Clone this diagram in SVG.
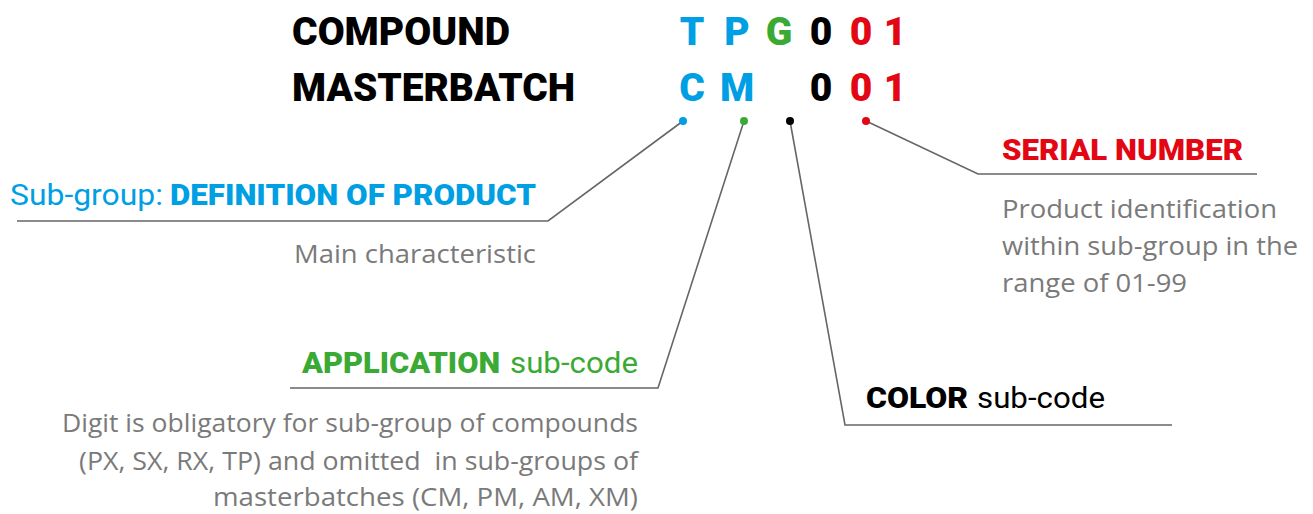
<svg xmlns="http://www.w3.org/2000/svg" width="1313" height="514" viewBox="0 0 1313 514">
<style>
.hd{font-family:Roboto,"Liberation Sans",sans-serif;font-weight:900}
.rg{font-family:Roboto,"Liberation Sans",sans-serif;font-weight:400}
.ds{font-family:"Open Sans","Noto Sans",sans-serif;font-size:26px;fill:#7a7a7a}
.big{font-size:39px}
.mid{font-size:30px}
.code{text-anchor:middle}
.blue{fill:#009fe3}.green{fill:#3aaa35}.red{fill:#e30613}.blk{fill:#000}
.ln{fill:none;stroke:#666;stroke-width:1.6}
</style>
<rect width="1313" height="514" fill="#fff"/>
<g id="title">
<text class="hd big blk" x="292" y="45" textLength="218" lengthAdjust="spacingAndGlyphs">COMPOUND</text>
<text class="hd big blk" x="292" y="101" textLength="283" lengthAdjust="spacingAndGlyphs">MASTERBATCH</text>
</g>
<g id="codes" class="hd big code">
<text class="blue" x="692" y="45">T</text>
<text class="blue" x="737" y="45">P</text>
<text class="green" x="779" y="45">G</text>
<text class="blk" x="821" y="45">0</text>
<text class="red" x="861" y="45">0</text>
<text class="red" x="895" y="45">1</text>
<text class="blue" x="692" y="101">C</text>
<text class="blue" x="737" y="101">M</text>
<text class="blk" x="821" y="101">0</text>
<text class="red" x="861" y="101">0</text>
<text class="red" x="895" y="101">1</text>
</g>
<g id="connectors">
<polyline class="ln" points="683,121 548,221 17,221"/>
<polyline class="ln" points="744,121 658,388 290,388"/>
<polyline class="ln" points="790,121 845,425 1172,425"/>
<polyline class="ln" points="866,121 978,174 1257,174"/>
<circle cx="683" cy="121" r="4" fill="#009fe3"/>
<circle cx="744" cy="121" r="4" fill="#3aaa35"/>
<circle cx="790" cy="121" r="4" fill="#000"/>
<circle cx="866" cy="121" r="4" fill="#e30613"/>
</g>
<g id="definition">
<text class="rg mid blue" x="10" y="205" textLength="153" lengthAdjust="spacingAndGlyphs">Sub-group:</text>
<text class="hd mid blue" x="170" y="205" textLength="366" lengthAdjust="spacingAndGlyphs">DEFINITION OF PRODUCT</text>
<text class="ds" x="294" y="263" textLength="242" lengthAdjust="spacingAndGlyphs">Main characteristic</text>
</g>
<g id="application">
<text class="hd mid green" x="302" y="373" textLength="198" lengthAdjust="spacingAndGlyphs">APPLICATION</text>
<text class="rg mid green" x="510" y="373" textLength="128" lengthAdjust="spacingAndGlyphs">sub-code</text>
<text class="ds" x="62" y="432" textLength="576" lengthAdjust="spacingAndGlyphs">Digit is obligatory for sub-group of compounds</text>
<text class="ds" x="79" y="470" textLength="559" lengthAdjust="spacingAndGlyphs" xml:space="preserve">(PX, SX, RX, TP) and omitted  in sub-groups of</text>
<text class="ds" x="213" y="506" textLength="425" lengthAdjust="spacingAndGlyphs">masterbatches (CM, PM, AM, XM)</text>
</g>
<g id="color">
<text class="hd mid blk" x="866" y="408" textLength="102" lengthAdjust="spacingAndGlyphs">COLOR</text>
<text class="rg mid blk" x="977" y="408" textLength="128" lengthAdjust="spacingAndGlyphs">sub-code</text>
</g>
<g id="serial">
<text class="hd mid red" x="1002" y="160" textLength="241" lengthAdjust="spacingAndGlyphs">SERIAL NUMBER</text>
<text class="ds" x="1002" y="218" textLength="275" lengthAdjust="spacingAndGlyphs">Product identification</text>
<text class="ds" x="1002" y="255" textLength="296" lengthAdjust="spacingAndGlyphs">within sub-group in the</text>
<text class="ds" x="1002" y="292" textLength="185" lengthAdjust="spacingAndGlyphs">range of 01-99</text>
</g>
</svg>
